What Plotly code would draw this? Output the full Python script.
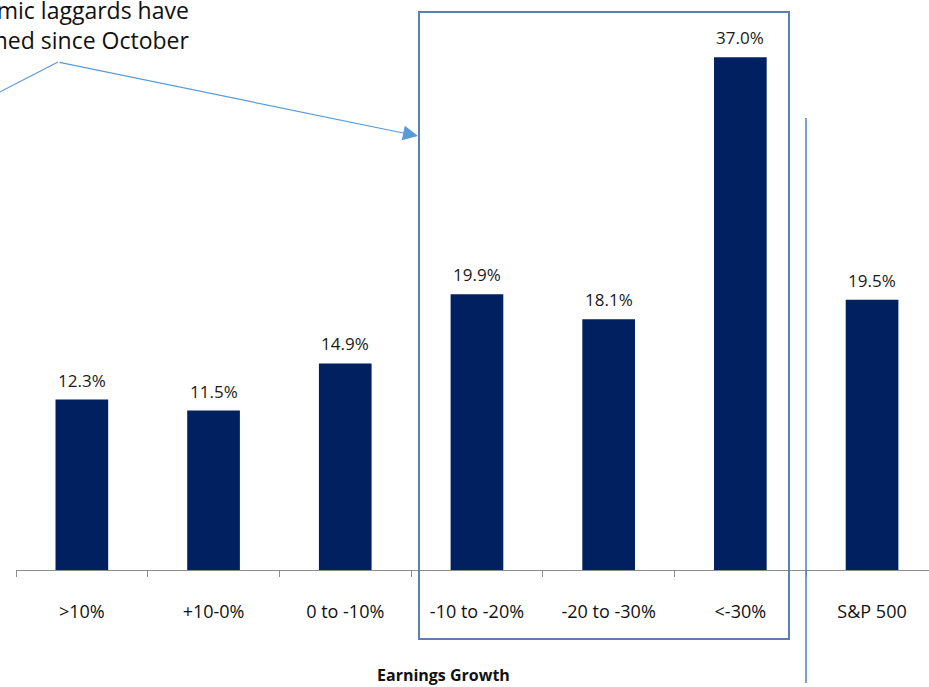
import plotly.graph_objects as go

# Earnings-growth buckets and the return of each bucket since October
categories = [">10%", "+10-0%", "0 to -10%", "-10 to -20%", "-20 to -30%", "&lt;-30%", "S&P 500"]
returns_pct = [12.3, 11.5, 14.9, 19.9, 18.1, 37.0, 19.5]

callout_lines = ["Economic laggards have", "outperformed since October"]
x_title = "Earnings Growth"

W, H = 929, 687
ML, MB = 16, 117
PLOT_W, PLOT_H = W - ML, H - MB
CAT_PX = 131.7           # width of one category slot
Y_MAX = PLOT_H / 13.86   # value at the top of the plot area

NAVY = "#002060"
FRAME = "#5a7fb0"
ARROW = "#5b9bd5"
FONT = "Open Sans"


def px_to_paper_x(px):
    return (px - ML) / PLOT_W


def px_to_paper_y(py):
    return (PLOT_H - py) / PLOT_H


fig = go.Figure(
    go.Bar(
        x=categories,
        y=returns_pct,
        width=0.4,
        marker=dict(color=NAVY, line=dict(width=0)),
        hoverinfo="skip",
    )
)

annotations = []
# value labels above each bar
for cat, val in zip(categories, returns_pct):
    annotations.append(dict(
        x=cat, y=val, xref="x", yref="y",
        text=f"{val:.1f}%", showarrow=False,
        yanchor="bottom", yshift=6,
        font=dict(family=FONT, size=17, color="#1a1a1a"),
    ))

# axis title
annotations.append(dict(
    x=px_to_paper_x(443), y=px_to_paper_y(675), xref="paper", yref="paper",
    text=f"<b>{x_title}</b>", showarrow=False, xanchor="center", yanchor="middle",
    font=dict(family=FONT, size=16, color="#111111"),
))

# callout text, right aligned
annotations.append(dict(
    x=px_to_paper_x(191), y=px_to_paper_y(-8), xref="paper", yref="paper",
    text="<br>".join(callout_lines), showarrow=False, align="right",
    xanchor="right", yanchor="top",
    font=dict(family=FONT, size=23, color="#111111"),
))

# callout arrow pointing at the boxed group (tail given as pixel offset)
HEAD = (418, 136)
BEND = (58, 62)
annotations.append(dict(
    x=px_to_paper_x(HEAD[0]), y=px_to_paper_y(HEAD[1]), xref="paper", yref="paper",
    ax=BEND[0] - HEAD[0], ay=BEND[1] - HEAD[1], axref="pixel", ayref="pixel",
    text="", showarrow=True, arrowhead=2, arrowsize=2.5, arrowwidth=1.2,
    arrowcolor=ARROW, standoff=0, startstandoff=0,
))

shapes = [
    # first leg of the callout leader
    dict(type="line", xref="paper", yref="paper",
         x0=px_to_paper_x(-12), y0=px_to_paper_y(98),
         x1=px_to_paper_x(BEND[0]), y1=px_to_paper_y(BEND[1]),
         line=dict(color=ARROW, width=1.2)),
    # frame around the three weakest-growth buckets
    dict(type="rect", xref="paper", yref="paper",
         x0=px_to_paper_x(419), x1=px_to_paper_x(789),
         y0=px_to_paper_y(639), y1=px_to_paper_y(12),
         line=dict(color=FRAME, width=2), fillcolor="rgba(0,0,0,0)"),
    # divider before the index bar
    dict(type="line", xref="paper", yref="paper",
         x0=px_to_paper_x(806), x1=px_to_paper_x(806),
         y0=px_to_paper_y(118), y1=px_to_paper_y(683),
         line=dict(color="#4f81bd", width=1.5)),
]

fig.update_layout(
    width=W, height=H,
    margin=dict(l=ML, r=0, t=0, b=MB, pad=0),
    paper_bgcolor="white", plot_bgcolor="white",
    showlegend=False,
    bargap=0.6,
    annotations=annotations,
    shapes=shapes,
    xaxis=dict(
        type="category",
        range=[-0.5, -0.5 + PLOT_W / CAT_PX],
        showline=True, linecolor="#8c8c8c", linewidth=1,
        ticks="outside", tickson="boundaries", ticklen=6,
        tickcolor="#8c8c8c", tickwidth=1,
        showgrid=False, zeroline=False,
        tickfont=dict(family=FONT, size=18, color="#111111"),
        ticklabelstandoff=25,
    ),
    yaxis=dict(
        range=[0, Y_MAX], visible=False, showgrid=False, zeroline=False,
    ),
)

fig.write_html("out.html")
